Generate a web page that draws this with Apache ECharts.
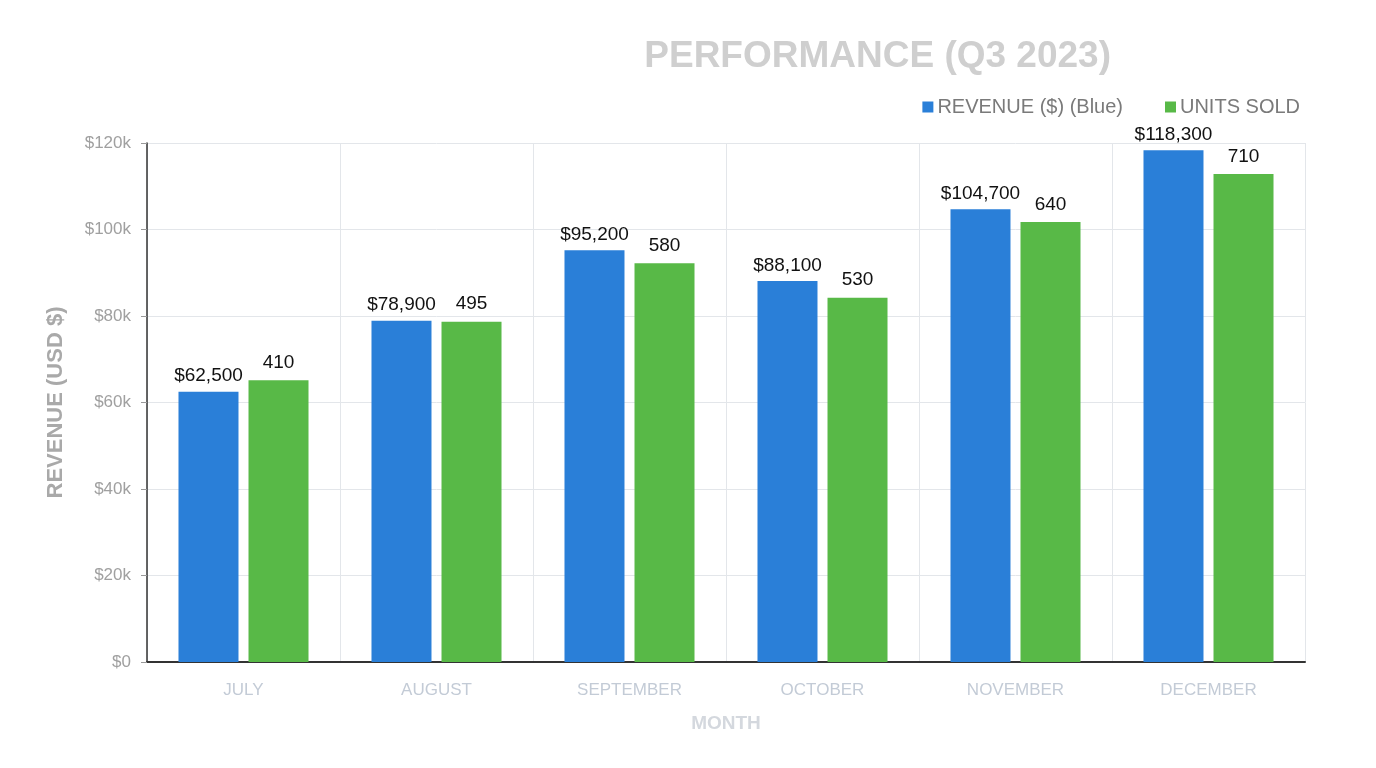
<!DOCTYPE html>
<html>
<head>
<meta charset="utf-8">
<script src="https://cdn.jsdelivr.net/npm/echarts@6/dist/echarts.min.js"></script>
<style>html,body{margin:0;padding:0;background:#fff}#c{width:1376px;height:768px}</style>
</head>
<body>
<div id="c"></div>
<script>
const months = ['JULY', 'AUGUST', 'SEPTEMBER', 'OCTOBER', 'NOVEMBER', 'DECEMBER'];
const revenue = [62500, 78900, 95200, 88100, 104700, 118300];
const unitsSold = [410, 495, 580, 530, 640, 710];
const revenueTicks = ['$0', '$20k', '$40k', '$60k', '$80k', '$100k', '$120k'];

const chart = echarts.init(document.getElementById('c'));
chart.setOption({
  animation: false,
  backgroundColor: '#ffffff',
  title: {
    text: 'PERFORMANCE (Q3 2023)',
    right: 260,
    top: 33,
    textStyle: { fontFamily: 'Liberation Sans', fontSize: 37, fontWeight: 'bold', color: '#cfcfcf' }
  },
  legend: {
    right: 71,
    top: 92,
    itemWidth: 11,
    itemHeight: 11,
    itemGap: 42,
    icon: 'rect',
    textStyle: { fontFamily: 'Liberation Sans', fontSize: 20, color: '#7a7a7a', padding: [0, 0, 0, -1] },
    data: ['REVENUE ($) (Blue)', 'UNITS SOLD']
  },
  grid: { left: 147, right: 71, top: 143, bottom: 106, containLabel: false, show: false },
  xAxis: {
    type: 'category',
    data: months,
    name: 'MONTH',
    nameLocation: 'middle',
    nameGap: 52,
    nameTextStyle: { fontFamily: 'Liberation Sans', fontSize: 19, fontWeight: 'bold', color: '#d4d8de' },
    axisLine: { show: true, lineStyle: { color: '#333', width: 2 } },
    axisTick: { show: false },
    axisLabel: { fontFamily: 'Liberation Sans', fontSize: 17, color: '#c3cbd6', margin: 20 },
    splitLine: { show: true, lineStyle: { color: '#e3e6ea', width: 1 } }
  },
  yAxis: [{
    type: 'value',
    min: 0,
    max: 120000,
    interval: 20000,
    name: 'REVENUE (USD $)',
    nameLocation: 'middle',
    nameGap: 80,
    nameRotate: 90,
    nameTextStyle: { fontFamily: 'Liberation Sans', fontSize: 22, fontWeight: 'bold', color: '#a9a9a9' },
    axisLine: { show: true, lineStyle: { color: '#333', width: 1.5 } },
    axisTick: { show: true, length: 6, lineStyle: { color: '#999' } },
    axisLabel: {
      fontFamily: 'Liberation Sans', fontSize: 17, color: '#a0a0a0', margin: 16,
      formatter: function (v) { return revenueTicks[Math.round(v / 20000)]; }
    },
    splitLine: { show: true, lineStyle: { color: '#e3e6ea', width: 1 } }
  }, {
    type: 'value',
    min: 0,
    max: 755,
    show: false,
    splitLine: { show: false }
  }],
  series: [{
    name: 'REVENUE ($) (Blue)',
    type: 'bar',
    yAxisIndex: 0,
    data: revenue,
    barWidth: 60,
    barGap: '16.7%',
    itemStyle: { color: '#2a7fd8' },
    label: {
      show: true, position: 'top', distance: 6,
      fontFamily: 'Liberation Sans', fontSize: 19, color: '#111',
      formatter: function (p) { return '$' + p.value.toLocaleString('en-US'); }
    }
  }, {
    name: 'UNITS SOLD',
    type: 'bar',
    yAxisIndex: 1,
    data: unitsSold,
    barWidth: 60,
    itemStyle: { color: '#58b947' },
    label: {
      show: true, position: 'top', distance: 8,
      fontFamily: 'Liberation Sans', fontSize: 19, color: '#111'
    }
  }]
});
</script>
</body>
</html>
